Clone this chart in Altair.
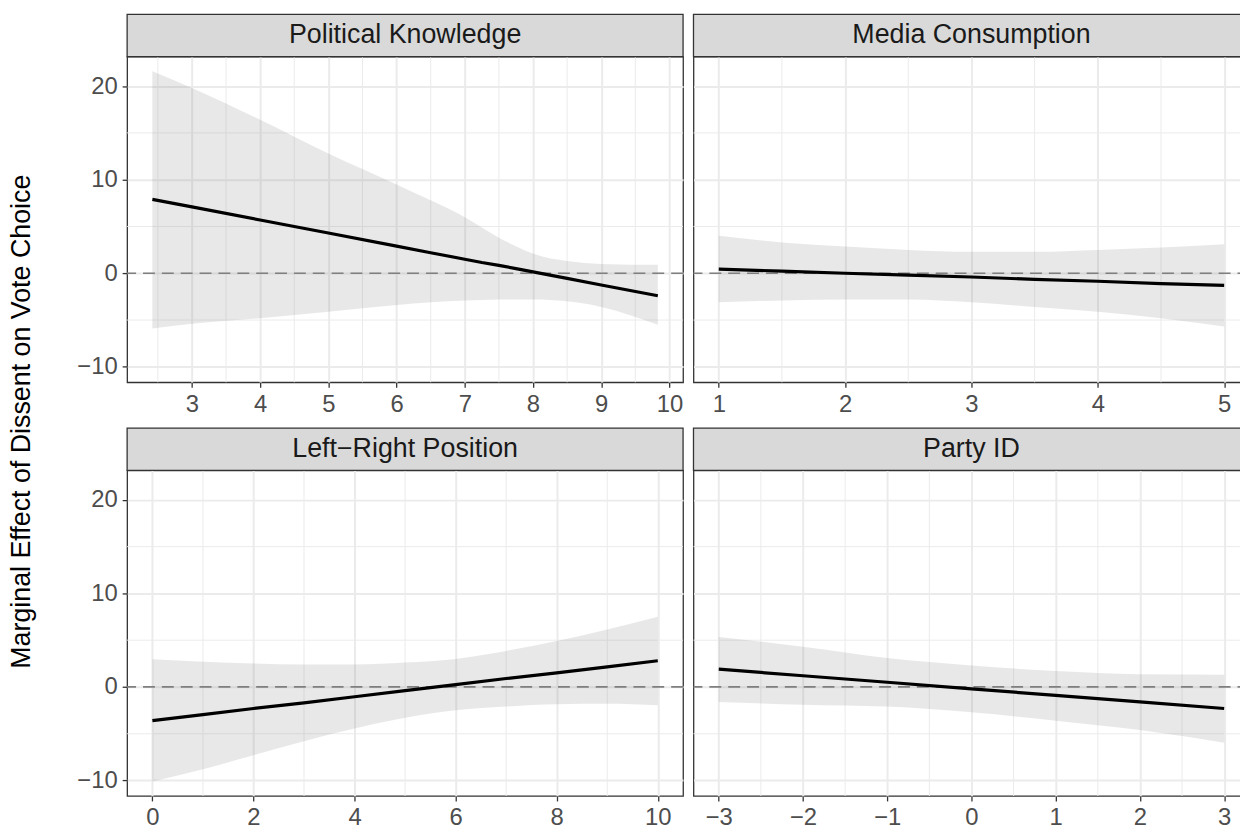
import altair as alt
import pandas as pd

FONT = "Liberation Sans"

PANEL_TITLES = ["Political Knowledge", "Media Consumption", "Left\u2212Right Position", "Party ID"]

# Political Knowledge
PK_X = [2.42, 3, 4, 5, 6, 6.5, 7, 7.25, 7.5, 7.75, 8, 8.5, 9, 9.83]
PK_EST = [7.9, 7.1, 5.7, 4.3, 2.9, 2.2, 1.5, 1.15, 0.85, 0.5, 0.15, -0.55, -1.25, -2.4]
PK_LO = [-5.9, -5.4, -4.8, -4.1, -3.4, -3.1, -2.9, -2.85, -2.8, -2.8, -2.8, -3.0, -3.6, -5.5]
PK_HI = [21.6, 19.8, 16.4, 12.8, 9.5, 7.8, 6.0, 4.9, 3.8, 2.9, 2.1, 1.3, 1.0, 0.9]
PK_TICKS = [3, 4, 5, 6, 7, 8, 9, 10]
PK_MINOR = [2.5, 3.5, 4.5, 5.5, 6.5, 7.5, 8.5, 9.5]
PK_DOMAIN = [2.05, 10.2]

# Media Consumption
MC_X = [1, 1.5, 2, 2.5, 3, 3.5, 4, 4.5, 5]
MC_EST = [0.45, 0.23, 0.0, -0.2, -0.4, -0.65, -0.85, -1.1, -1.3]
MC_LO = [-3.1, -2.9, -2.8, -2.8, -3.1, -3.6, -4.1, -4.8, -5.7]
MC_HI = [4.0, 3.3, 2.85, 2.5, 2.3, 2.3, 2.5, 2.75, 3.1]
MC_TICKS = [1, 2, 3, 4, 5]
MC_MINOR = [1.5, 2.5, 3.5, 4.5]
MC_DOMAIN = [0.8, 5.2]

# Left-Right Position
LR_X = [0, 1, 2, 3, 4, 5, 6, 7, 8, 9, 10]
LR_EST = [-3.6, -2.95, -2.3, -1.7, -1.05, -0.4, 0.25, 0.9, 1.5, 2.15, 2.8]
LR_LO = [-10.1, -8.8, -7.3, -5.8, -4.45, -3.3, -2.5, -2.1, -1.85, -1.8, -1.95]
LR_HI = [2.95, 2.7, 2.5, 2.4, 2.4, 2.6, 3.0, 3.85, 4.9, 6.15, 7.5]
LR_TICKS = [0, 2, 4, 6, 8, 10]
LR_MINOR = [1, 3, 5, 7, 9]
LR_DOMAIN = [-0.5, 10.5]

# Party ID
PI_X = [-3, -2, -1, 0, 1, 2, 3]
PI_EST = [1.9, 1.2, 0.5, -0.2, -0.9, -1.6, -2.3]
PI_LO = [-1.6, -1.9, -2.1, -2.7, -3.6, -4.6, -5.95]
PI_HI = [5.35, 4.3, 3.1, 2.3, 1.7, 1.35, 1.3]
PI_TICKS = [-3, -2, -1, 0, 1, 2, 3]
PI_MINOR = [-2.5, -1.5, -0.5, 0.5, 1.5, 2.5]
PI_DOMAIN = [-3.3, 3.3]

Y_TICKS = [-10, 0, 10, 20]
Y_MINOR = [-5, 5, 15]
Y_DOMAIN = [-11.65, 23.15]
ZERO = [0]

Y_TITLE = "Marginal Effect of Dissent on Vote Choice"

W = 560
H = 328
STRIP_H = 42.6


def panel(title, xs, est, lo, hi, ticks, minor, domain, left):
    df = pd.DataFrame({"x": xs, "est": est, "lo": lo, "hi": hi})
    xscale = alt.Scale(domain=domain, nice=False, zero=False)
    yscale = alt.Scale(domain=Y_DOMAIN, nice=False, zero=False)
    xaxis = alt.Axis(values=ticks, title=None, grid=True, gridColor="#EBEBEB", gridWidth=2,
                     domain=False, ticks=True, tickColor="#333333", tickWidth=1.3, tickSize=5,
                     labelFontSize=24, labelColor="#4D4D4D", labelFont=FONT, labelPadding=5,
                     labelFlush=False, format="d")
    yaxis = alt.Axis(values=Y_TICKS, title=None, grid=True, gridColor="#EBEBEB", gridWidth=2,
                     domain=False, ticks=left, labels=left, tickColor="#333333", tickWidth=1.3,
                     tickSize=5, labelFontSize=24, labelColor="#4D4D4D", labelFont=FONT,
                     labelPadding=5, labelFlush=False, format="d")

    def X(f):
        return alt.X(f, type="quantitative", scale=xscale, axis=xaxis)

    def Y(f):
        return alt.Y(f, type="quantitative", scale=yscale, axis=yaxis)

    vminor = alt.Chart(pd.DataFrame({"m": minor})).mark_rule(
        color="#EBEBEB", strokeWidth=1).encode(x=X("m"))
    hminor = alt.Chart(pd.DataFrame({"m": Y_MINOR})).mark_rule(
        color="#EBEBEB", strokeWidth=1).encode(y=Y("m"))
    band = alt.Chart(df).mark_area(color="#808080", opacity=0.18, interpolate="monotone").encode(
        x=X("x"), y=Y("lo"), y2="hi")
    zero = alt.Chart(pd.DataFrame({"z": ZERO})).mark_rule(
        color="#7F7F7F", strokeWidth=1.7, strokeDash=[12, 7]).encode(y=Y("z"))
    line = alt.Chart(df).mark_line(color="black", strokeWidth=3.2).encode(x=X("x"), y=Y("est"))
    tdf = pd.DataFrame({"label": [title]})
    strip = alt.Chart(tdf).mark_rect(fill="#D9D9D9", stroke="#333333", strokeWidth=1.3).encode(
        x=alt.value(0), x2=alt.value(W), y=alt.value(-STRIP_H), y2=alt.value(0))
    stext = alt.Chart(tdf).mark_text(fontSize=27, font=FONT, color="#1A1A1A", align="center",
                                     baseline="middle").encode(
        x=alt.value(W / 2), y=alt.value(-STRIP_H / 2), text="label:N")
    return alt.layer(vminor, hminor, band, zero, line, strip, stext).properties(width=W, height=H)


p1 = panel(PANEL_TITLES[0], PK_X, PK_EST, PK_LO, PK_HI, PK_TICKS, PK_MINOR, PK_DOMAIN, True)
p2 = panel(PANEL_TITLES[1], MC_X, MC_EST, MC_LO, MC_HI, MC_TICKS, MC_MINOR, MC_DOMAIN, False)
p3 = panel(PANEL_TITLES[2], LR_X, LR_EST, LR_LO, LR_HI, LR_TICKS, LR_MINOR, LR_DOMAIN, True)
p4 = panel(PANEL_TITLES[3], PI_X, PI_EST, PI_LO, PI_HI, PI_TICKS, PI_MINOR, PI_DOMAIN, False)

chart = alt.concat(p1, p2, p3, p4, columns=2, spacing={"row": 88.7, "column": 10.5},
                   bounds="flush").properties(
    title=alt.TitleParams(text=Y_TITLE, orient="left", angle=270, anchor="middle", fontSize=27,
                          font=FONT, fontWeight="normal", color="black", offset=40),
    padding={"left": 0, "top": 2, "right": -11, "bottom": 0},
    background="white",
).configure_view(stroke="#333333", strokeWidth=1.3)

chart.save("out.html", embed_options={"renderer": "svg", "actions": False})
